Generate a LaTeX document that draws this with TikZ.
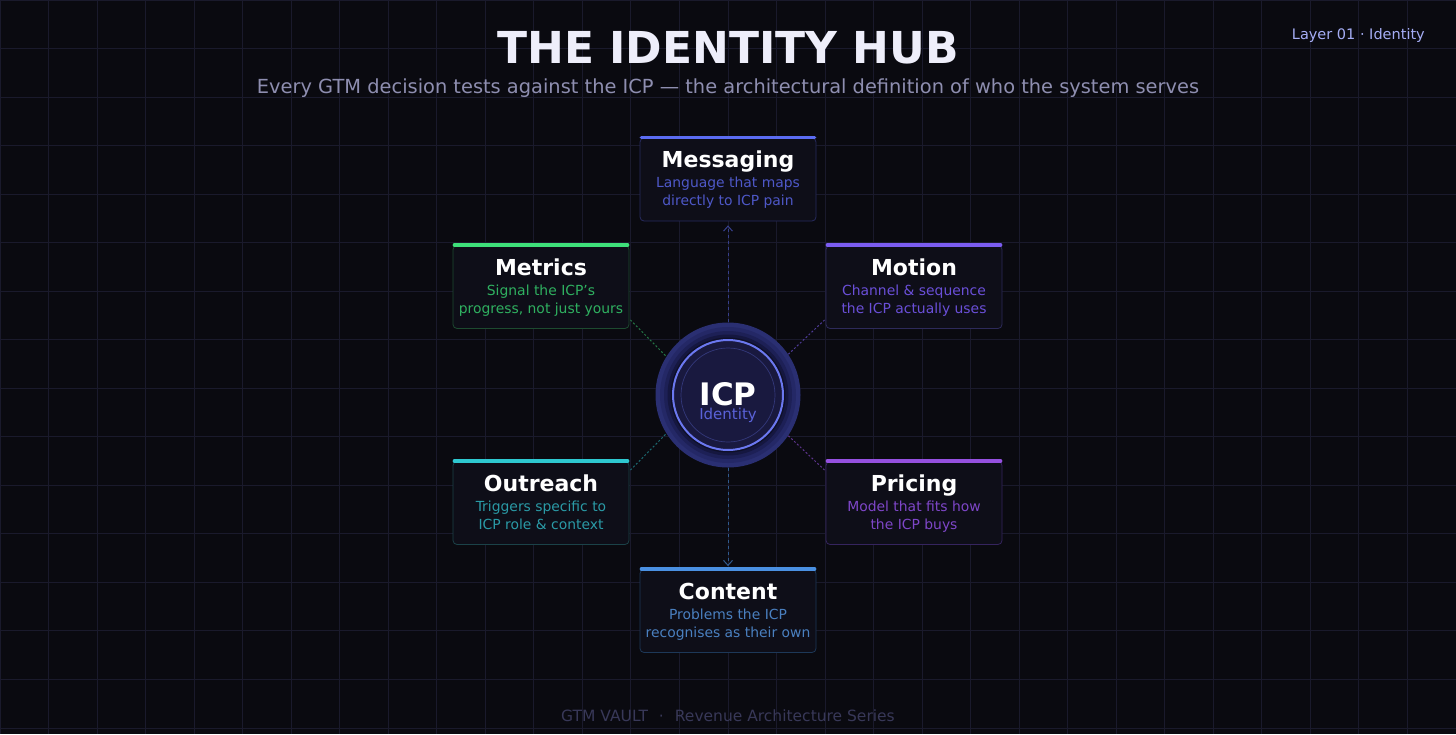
\documentclass[tikz,border=0pt]{standalone}
\usepackage{fontspec}
\setmainfont{DejaVu Sans}
\usepackage{xcolor}
\usetikzlibrary{arrows.meta,positioning,calc}

\definecolor{bgdark}{HTML}{0A0A10}
\definecolor{gridline}{HTML}{1A1A2C}
\definecolor{titlewhite}{HTML}{EEEEFA}
\definecolor{subgray}{HTML}{8E8EB0}
\definecolor{layerblue}{HTML}{A5ADF5}
\definecolor{footgray}{HTML}{383858}
\definecolor{cardbg}{HTML}{0E0E18}
% card colours
\definecolor{msgbar}{HTML}{5B6CF2}\definecolor{msgedge}{HTML}{272B5E}\definecolor{msgtext}{HTML}{4E58C8}
\definecolor{metbar}{HTML}{3EE07A}\definecolor{metedge}{HTML}{1D4A30}\definecolor{mettext}{HTML}{2FB060}
\definecolor{motbar}{HTML}{7B5CF0}\definecolor{motedge}{HTML}{2D2A5A}\definecolor{mottext}{HTML}{6A4FD8}
\definecolor{outbar}{HTML}{2EC8D0}\definecolor{outedge}{HTML}{1B4248}\definecolor{outtext}{HTML}{2A9AA6}
\definecolor{pribar}{HTML}{9550E0}\definecolor{priedge}{HTML}{35245E}\definecolor{pritext}{HTML}{7E46C8}
\definecolor{conbar}{HTML}{4A90E2}\definecolor{conedge}{HTML}{1D3858}\definecolor{context}{HTML}{4A80C0}
% hub colours
\definecolor{glowa}{HTML}{2A2F72}
\definecolor{glowb}{HTML}{242866}
\definecolor{glowc}{HTML}{1D2056}
\definecolor{glowd}{HTML}{151740}
\definecolor{glowe}{HTML}{0E0F28}
\definecolor{ringblue}{HTML}{6B78F0}
\definecolor{hubfill}{HTML}{19193F}
\definecolor{hubinner}{HTML}{33387A}
\definecolor{idtext}{HTML}{5A62D8}

\begin{document}
\begin{tikzpicture}[
    x=1pt, y=-1pt,
    card/.style={rectangle, draw, rounded corners=4pt, fill=cardbg, line width=0.8pt, minimum width=176pt, minimum height=83pt},
    bar/.style={line width=3.5pt, line cap=round, shorten <=1.8pt, shorten >=1.8pt},
    cardtitle/.style={anchor=base, font=\fontsize{22}{26}\selectfont\bfseries, text=white, inner sep=0pt},
    carddesc/.style={anchor=base, align=center, font=\fontsize{13.9}{18}\selectfont, inner sep=0pt},
    link/.style={line width=1pt, dash pattern=on 3pt off 3pt},
    spoke/.style={line width=1pt, dash pattern=on 2pt off 2pt},
    tip/.style={-{Straight Barb[length=5pt,width=9pt,line width=1pt]}}
]

% Background and grid
\fill[bgdark] (0,0) rectangle (1456,734);
\useasboundingbox (0,0) rectangle (1456,734);
\foreach \gx in {0,...,30} \draw[gridline, line width=1pt] (\gx*48.533,0) -- (\gx*48.533,734);
\foreach \gy in {0,...,15} \draw[gridline, line width=1pt] (0,\gy*48.533) -- (1456,\gy*48.533);

% Header
\node[anchor=base, font=\fontsize{44}{50}\selectfont\bfseries, text=titlewhite] (title) at (728,63) {THE IDENTITY HUB};
\node[anchor=base, font=\fontsize{19.4}{22}\selectfont, text=subgray] (subtitle) at (728,93) {Every GTM decision tests against the ICP — the architectural definition of who the system serves};
\node[anchor=base east, font=\fontsize{14.5}{17}\selectfont, text=layerblue, inner sep=0pt] (layer) at (1425,39) {Layer 01 · Identity};

% ICP hub
\node[circle, fill=glowa, minimum size=145pt, inner sep=0pt] (icp) at (728,395) {};
\fill[glowb] (icp.center) circle (68);
\fill[glowc] (icp.center) circle (64);
\fill[glowd] (icp.center) circle (60.5);
\fill[glowe] (icp.center) circle (57.5);
\draw[ringblue, fill=hubfill, line width=2pt] (icp.center) circle (55);
\draw[hubinner, line width=0.7pt] (icp.center) circle (47);
\node[anchor=base, font=\fontsize{31}{34}\selectfont\bfseries, text=white, inner sep=0pt] (icplabel) at (728,405) {ICP};
\node[anchor=base, font=\fontsize{15}{17}\selectfont, text=idtext, inner sep=0pt] (icpsub) at (728,419) {Identity};

% Cards
\node[card, draw=msgedge] (messaging) at (728,179.5) {};
\draw[bar, msgbar] (messaging.north west) -- (messaging.north east);
\node[cardtitle] at ($(messaging.north)+(0,30)$) {Messaging};
\node[carddesc, text=msgtext] at ($(messaging.north)+(0,68)$) {Language that maps\\directly to ICP pain};

\node[card, draw=metedge] (metrics) at (541,287) {};
\draw[bar, metbar] (metrics.north west) -- (metrics.north east);
\node[cardtitle] at ($(metrics.north)+(0,30)$) {Metrics};
\node[carddesc, text=mettext] at ($(metrics.north)+(0,68)$) {Signal the ICP's\\progress, not just yours};

\node[card, draw=motedge] (motion) at (914,287) {};
\draw[bar, motbar] (motion.north west) -- (motion.north east);
\node[cardtitle] at ($(motion.north)+(0,30)$) {Motion};
\node[carddesc, text=mottext] at ($(motion.north)+(0,68)$) {Channel \& sequence\\the ICP actually uses};

\node[card, draw=outedge] (outreach) at (541,503) {};
\draw[bar, outbar] (outreach.north west) -- (outreach.north east);
\node[cardtitle] at ($(outreach.north)+(0,30)$) {Outreach};
\node[carddesc, text=outtext] at ($(outreach.north)+(0,68)$) {Triggers specific to\\ICP role \& context};

\node[card, draw=priedge] (pricing) at (914,503) {};
\draw[bar, pribar] (pricing.north west) -- (pricing.north east);
\node[cardtitle] at ($(pricing.north)+(0,30)$) {Pricing};
\node[carddesc, text=pritext] at ($(pricing.north)+(0,68)$) {Model that fits how\\the ICP buys};

\node[card, draw=conedge] (content) at (728,611) {};
\draw[bar, conbar] (content.north west) -- (content.north east);
\node[cardtitle] at ($(content.north)+(0,30)$) {Content};
\node[carddesc, text=context] at ($(content.north)+(0,68)$) {Problems the ICP\\recognises as their own};

% Connectors
\draw[link, tip, draw=msgbar!55!bgdark, shorten >=4pt] (icp.north) -- (messaging.south);
\draw[link, tip, draw=conbar!60!bgdark, shorten >=3pt] (icp.south) -- (content.north);
\draw[spoke, draw=metbar!50!bgdark] ($(metrics.south east)+(1,-9)$) -- (icp.148);
\draw[spoke, draw=motbar!60!bgdark] ($(motion.south west)+(-1,-9)$) -- (icp.34);
\draw[spoke, draw=outbar!50!bgdark] ($(outreach.north east)+(1,9)$) -- (icp.212);
\draw[spoke, draw=pribar!60!bgdark] ($(pricing.north west)+(-1,9)$) -- (icp.326);

% Footer
\node[anchor=base, font=\fontsize{15.5}{18}\selectfont, text=footgray] (footer) at (728,721) {GTM VAULT\hspace{11pt}·\hspace{11pt}Revenue Architecture Series};

\end{tikzpicture}
\end{document}
